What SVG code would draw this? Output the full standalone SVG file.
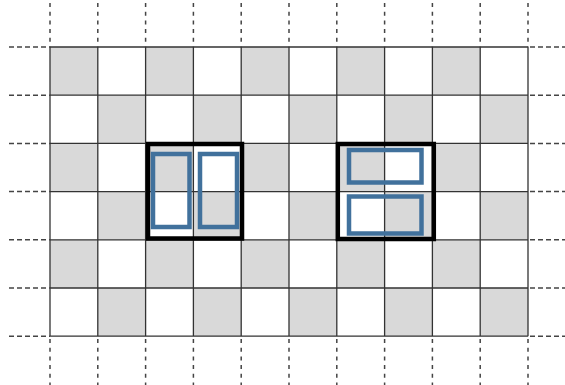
<svg xmlns="http://www.w3.org/2000/svg" width="565" height="385" viewBox="0 0 565 385">
<style>
.g{fill:#d9d9d9}
.grid{stroke:#333;stroke-width:1.3;fill:none}
.dash{stroke:#444;stroke-width:1.5;stroke-dasharray:4 4.7;fill:none}
.hdash{stroke:#444;stroke-width:1.5;stroke-dasharray:5 3;fill:none}
.box{fill:none;stroke:#000;stroke-width:4.5}
.blue{fill:none;stroke:#41719c;stroke-width:4.5}
</style>
<rect width="565" height="385" fill="#fff"/>
<g id="board">
<g id="cells">
<rect class="g" x="50" y="47" width="47.8" height="48.2"/>
<rect class="g" x="145.6" y="47" width="47.8" height="48.2"/>
<rect class="g" x="241.2" y="47" width="47.8" height="48.2"/>
<rect class="g" x="336.8" y="47" width="47.8" height="48.2"/>
<rect class="g" x="432.4" y="47" width="47.8" height="48.2"/>
<rect class="g" x="97.8" y="95.2" width="47.8" height="48.2"/>
<rect class="g" x="193.4" y="95.2" width="47.8" height="48.2"/>
<rect class="g" x="289" y="95.2" width="47.8" height="48.2"/>
<rect class="g" x="384.6" y="95.2" width="47.8" height="48.2"/>
<rect class="g" x="480.2" y="95.2" width="47.8" height="48.2"/>
<rect class="g" x="50" y="143.4" width="47.8" height="48.2"/>
<rect class="g" x="145.6" y="143.4" width="47.8" height="48.2"/>
<rect class="g" x="241.2" y="143.4" width="47.8" height="48.2"/>
<rect class="g" x="336.8" y="143.4" width="47.8" height="48.2"/>
<rect class="g" x="432.4" y="143.4" width="47.8" height="48.2"/>
<rect class="g" x="97.8" y="191.6" width="47.8" height="48.2"/>
<rect class="g" x="193.4" y="191.6" width="47.8" height="48.2"/>
<rect class="g" x="289" y="191.6" width="47.8" height="48.2"/>
<rect class="g" x="384.6" y="191.6" width="47.8" height="48.2"/>
<rect class="g" x="480.2" y="191.6" width="47.8" height="48.2"/>
<rect class="g" x="50" y="239.8" width="47.8" height="48.2"/>
<rect class="g" x="145.6" y="239.8" width="47.8" height="48.2"/>
<rect class="g" x="241.2" y="239.8" width="47.8" height="48.2"/>
<rect class="g" x="336.8" y="239.8" width="47.8" height="48.2"/>
<rect class="g" x="432.4" y="239.8" width="47.8" height="48.2"/>
<rect class="g" x="97.8" y="288" width="47.8" height="48.2"/>
<rect class="g" x="193.4" y="288" width="47.8" height="48.2"/>
<rect class="g" x="289" y="288" width="47.8" height="48.2"/>
<rect class="g" x="384.6" y="288" width="47.8" height="48.2"/>
<rect class="g" x="480.2" y="288" width="47.8" height="48.2"/>
</g>
<path class="grid" d="M50 47V336.2M97.8 47V336.2M145.6 47V336.2M193.4 47V336.2M241.2 47V336.2M289 47V336.2M336.8 47V336.2M384.6 47V336.2M432.4 47V336.2M480.2 47V336.2M528 47V336.2
M50 47H528M50 95.2H528M50 143.4H528M50 191.6H528M50 239.8H528M50 288H528M50 336.2H528"/>
<path class="dash" d="M50 3V47M97.8 3V47M145.6 3V47M193.4 3V47M241.2 3V47M289 3V47M336.8 3V47M384.6 3V47M432.4 3V47M480.2 3V47M528 3V47
M50 339V385M97.8 339V385M145.6 339V385M193.4 339V385M241.2 339V385M289 339V385M336.8 339V385M384.6 339V385M432.4 339V385M480.2 339V385M528 339V385"/>
<path class="hdash" d="M9 47H50M9 95.2H50M9 143.4H50M9 191.6H50M9 239.8H50M9 288H50M9 336.2H50
M530 47H565M530 95.2H565M530 143.4H565M530 191.6H565M530 239.8H565M530 288H565M530 336.2H565"/>
</g>
<g id="left-block">
<rect class="box" x="148" y="144" width="94" height="94.5"/>
<rect class="blue" x="153" y="154" width="36.5" height="73"/>
<rect class="blue" x="200" y="154" width="37" height="73"/>
</g>
<g id="right-block">
<rect class="box" x="337.8" y="144" width="96" height="95"/>
<rect class="blue" x="349" y="150" width="72.5" height="32.5"/>
<rect class="blue" x="349" y="196.5" width="72.5" height="37"/>
</g>
</svg>
